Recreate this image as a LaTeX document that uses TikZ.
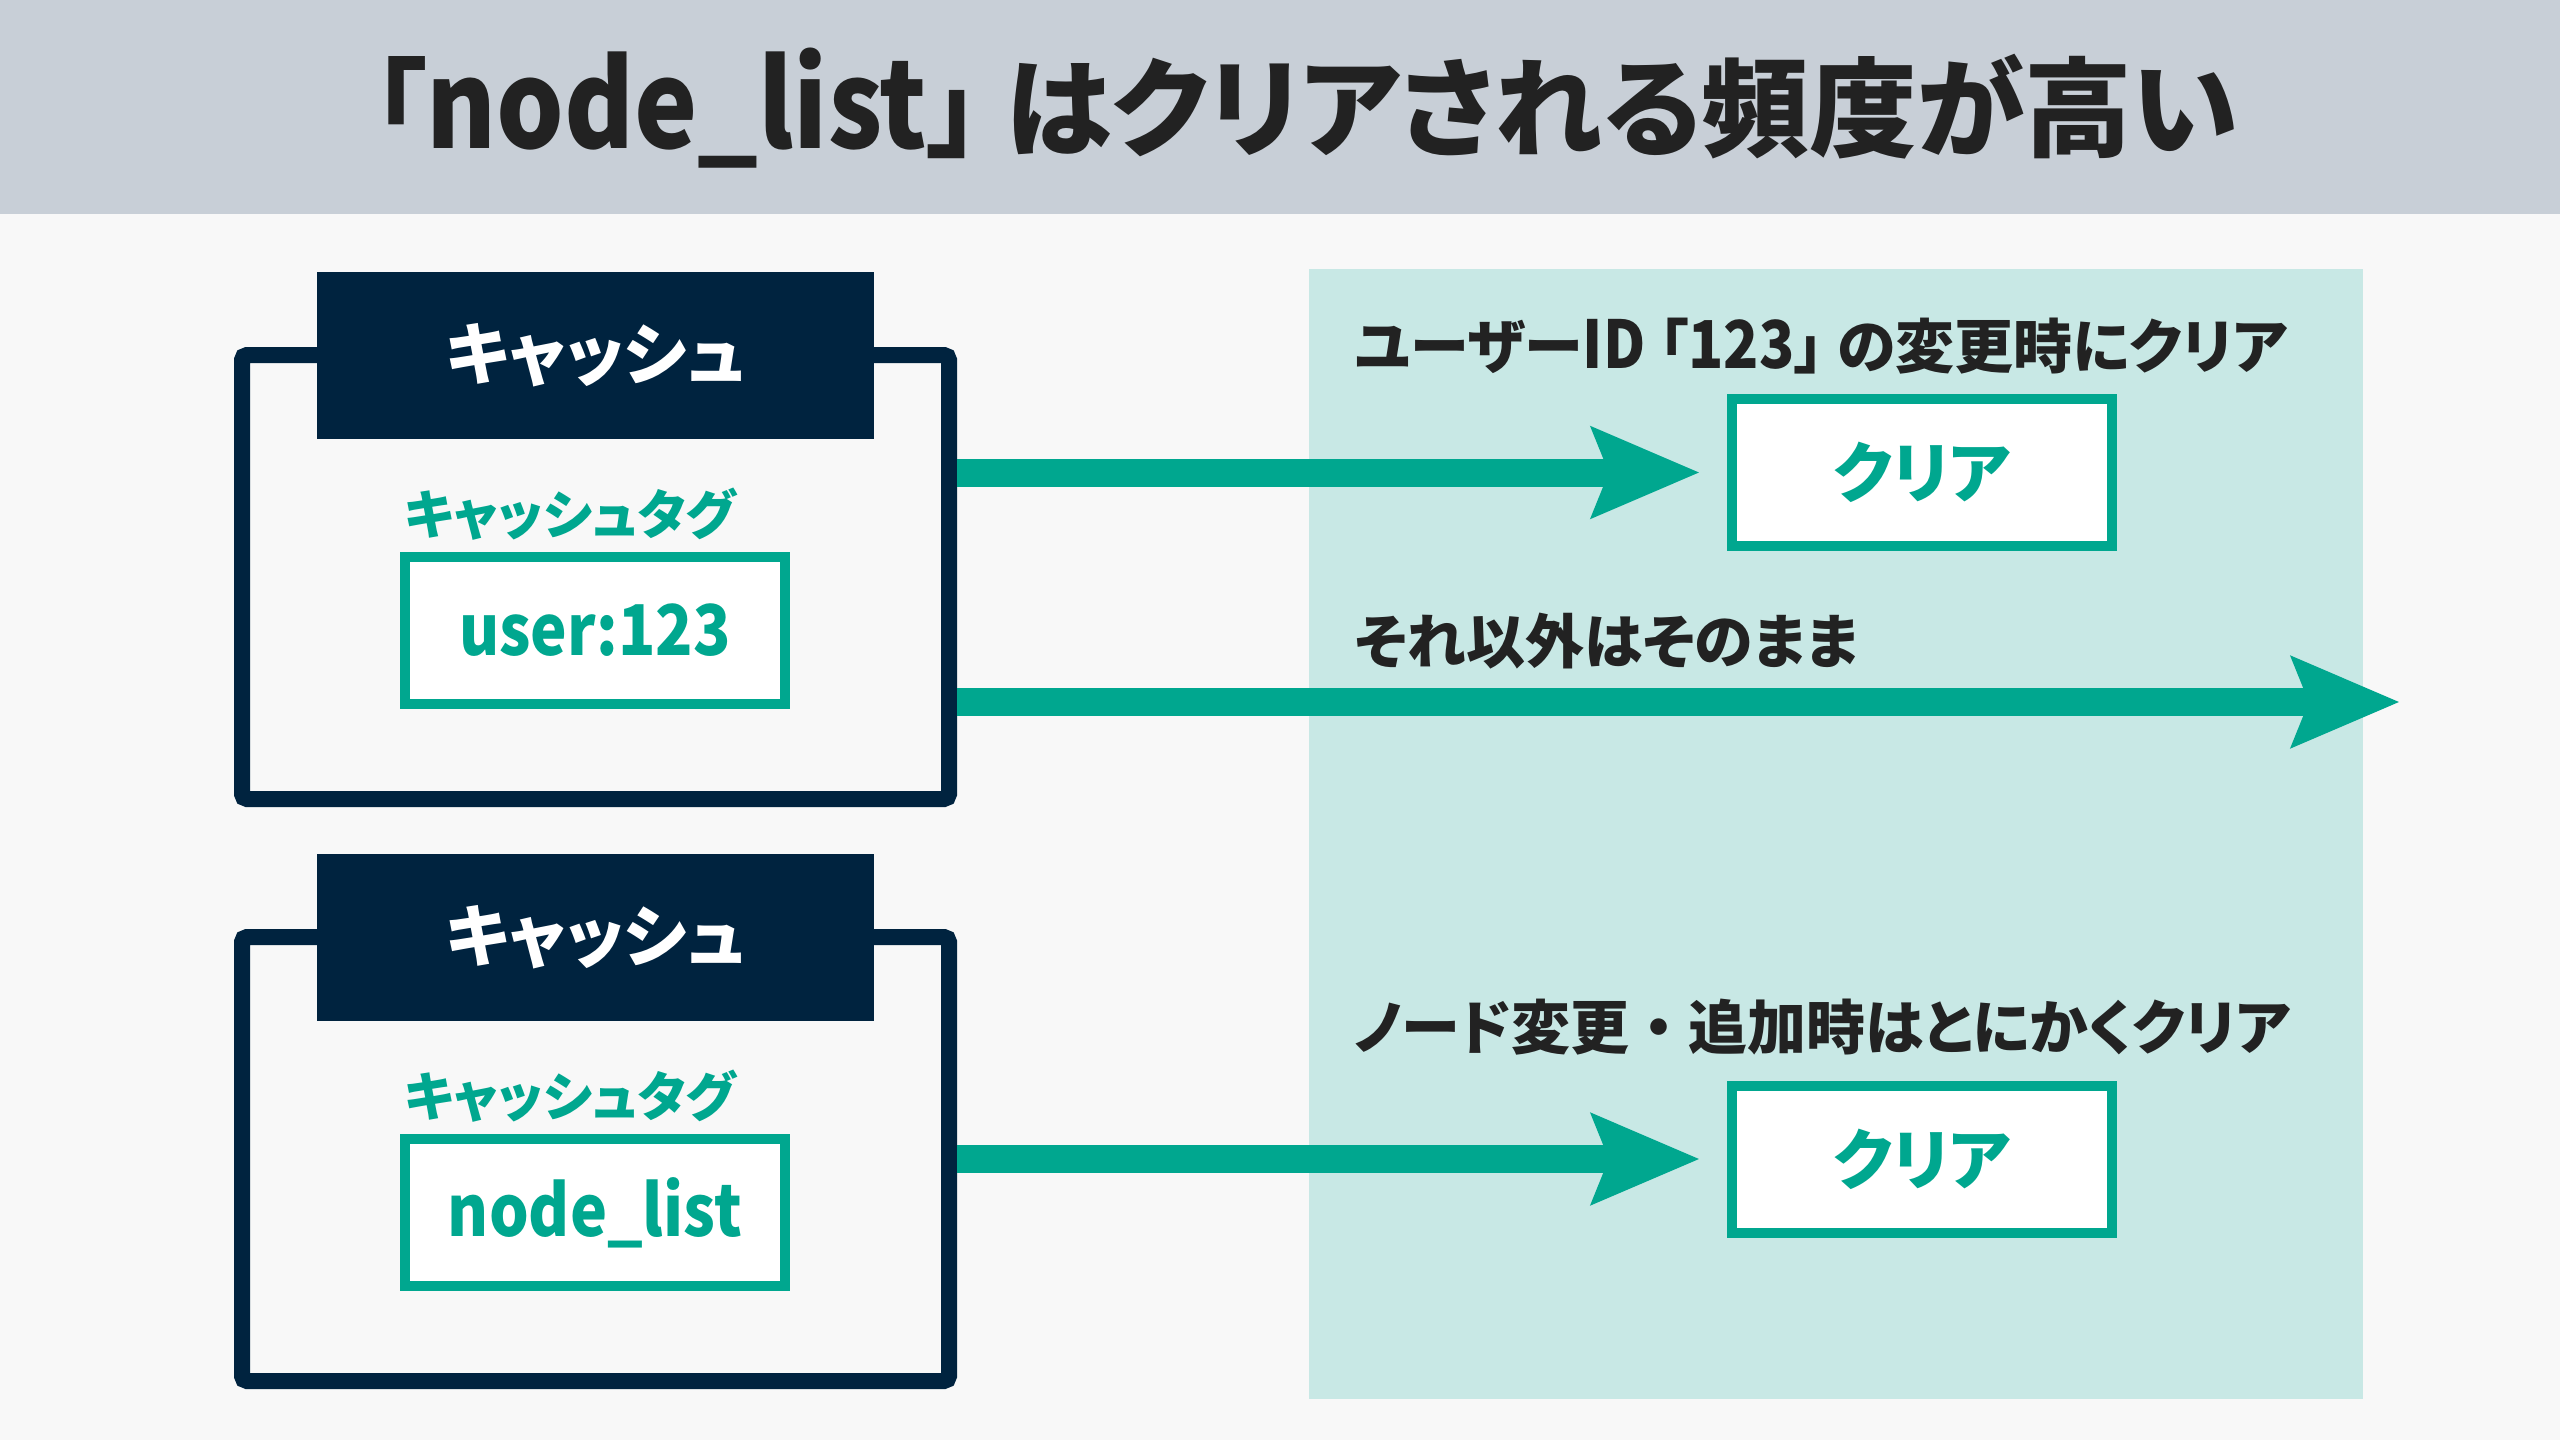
\documentclass[tikz,border=0pt]{standalone}
\usepackage{fontspec}
\setmainfont{Noto Sans CJK JP}[RawFeature=+palt]
\newfontfamily\jpfull{Noto Sans CJK JP}
\newfontfamily\latfam{Noto Sans CJK JP}[FakeStretch=0.88]
\newcommand\mylat[2]{{\latfam\fontsize{#1}{#1}\selectfont #2}}
\newcommand\fw[1]{{\jpfull #1}}
\usetikzlibrary{arrows.meta}
\definecolor{bgc}{HTML}{F8F8F8}
\definecolor{bandc}{HTML}{C8CFD7}
\definecolor{navy}{HTML}{00233F}
\definecolor{teal}{HTML}{00A78F}
\definecolor{panelc}{HTML}{C8E8E5}
\definecolor{ink}{HTML}{222222}
\tikzset{
  frame/.style={draw=navy, line width=8pt, fill=bgc, rounded corners=2.5pt, minimum width=353.5pt, minimum height=222pt, inner sep=0pt},
  hdr/.style={fill=navy, text=white, font=\bfseries\fontsize{34pt}{40pt}\selectfont, minimum width=278.5pt, minimum height=83.5pt, inner sep=0pt},
  taglbl/.style={text=teal, font=\bfseries\fontsize{26.5pt}{30pt}\selectfont, inner sep=0pt, anchor=west},
  tagbox/.style={draw=teal, fill=white, line width=5pt, minimum width=190pt, minimum height=73.5pt, inner sep=0pt, text=teal, font=\bfseries},
  clearbox/.style={tagbox, font=\bfseries\fontsize{33pt}{40pt}\selectfont},
  lbl/.style={text=ink, font=\bfseries\fontsize{29.5pt}{34pt}\selectfont, inner sep=0pt, anchor=west},
  arr/.style={draw=teal, line width=14pt, -{Stealth[length=53.5pt, width=44pt, inset=8pt]}},
}
\begin{document}
\begin{tikzpicture}[x=0.5pt, y=-0.5pt]
\useasboundingbox (0,0) rectangle (2560,1440);
\fill[bgc] (0,0) rectangle (2560,1440);
\fill[bandc] (0,0) rectangle (2560,214);
\node[text=ink, font=\bfseries\fontsize{53.8pt}{60pt}\selectfont, inner sep=0pt, anchor=west] (title) at (372,108) {「\mylat{60.5pt}{node\_list}」\mylat{60pt}{ }はクリアされる頻度が高い};
\fill[panelc] (1309,269) rectangle (2363,1399);
% cache 1
\node[frame] (f1) at (595.5,577) {};
\node[hdr] (h1) at ([yshift=-4pt]f1.north) {キャッシュ};
\node[taglbl] (t1) at (404,514) {キャッシュタグ};
\node[tagbox] (b1) at (595,630.5) {\mylat{35pt}{user:123}};
% cache 2
\node[frame] (f2) at (595.5,1159) {};
\node[hdr] (h2) at ([yshift=-4pt]f2.north) {キャッシュ};
\node[taglbl] (t2) at (404,1096) {キャッシュタグ};
\node[tagbox] (b2) at (595,1212.5) {\mylat{35.5pt}{node\_list}};
% right side
\node[lbl] (l1) at (1354,346) {ユーザー\mylat{33pt}{ID }「\mylat{33pt}{123}」\mylat{33pt}{ }の変更時にクリア};
\node[clearbox] (c1) at (1922,472.5) {クリア};
\node[lbl] (l2) at (1354,641) {それ以外はそのまま};
\node[lbl] (l3) at (1354,1027) {ノード変更\fw{・}追加時はとにかくクリア};
\node[clearbox] (c2) at (1922,1159) {クリア};
\coordinate (e2) at (2400,702);
\draw[arr] (f1.east |- c1.west) -- ([xshift=-13.5pt]c1.west);
\draw[arr] (f1.east |- e2) -- (e2);
\draw[arr] (f2.east |- c2.west) -- ([xshift=-13.5pt]c2.west);
\end{tikzpicture}
\end{document}
